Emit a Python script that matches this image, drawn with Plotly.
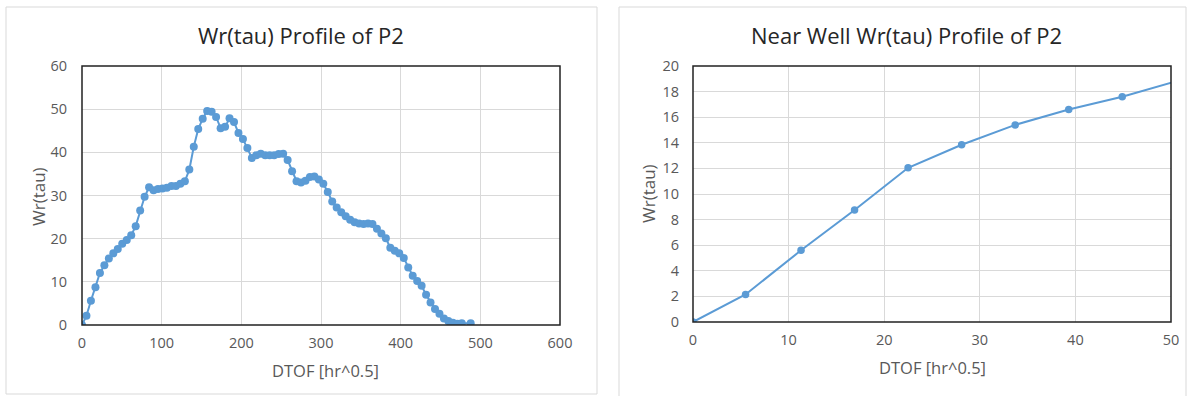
import plotly.graph_objects as go

# Left chart: full profile
dtof_full = [0, 5.6, 11.2, 16.9, 22.5, 28.1, 33.7, 39.3, 44.9, 50.5, 56.2, 61.8, 67.4, 73.0, 78.6,
             84.2, 89.8, 95.4, 101.0, 106.6, 112.3, 117.9, 123.5, 129.1, 134.7, 140.3, 145.9, 151.5,
             157.1, 162.7, 168.3, 174.0, 179.6, 185.2, 190.8, 196.4, 202.0, 207.6, 213.2, 218.8,
             224.4, 230.0, 235.6, 241.2, 246.9, 252.5, 258.1, 263.7, 269.3, 274.9, 280.5, 286.1,
             291.7, 297.3, 302.9, 308.5, 314.1, 319.7, 325.4, 331.0, 336.6, 342.2, 347.8, 353.4,
             359.0, 364.6, 370.2, 375.8, 381.4, 387.0, 392.6, 398.2, 403.9, 409.5, 415.1, 420.7,
             426.3, 431.9, 437.5, 443.1, 448.7, 454.3, 459.9, 465.5, 471.1, 476.7, 487.9]
wr_full = [0, 2.15, 5.6, 8.75, 12.05, 13.85, 15.4, 16.6, 17.6, 18.8, 19.7, 20.8, 22.9, 26.5, 29.7,
           31.9, 31.2, 31.5, 31.6, 31.8, 32.2, 32.2, 32.7, 33.3, 36.0, 41.3, 45.4, 47.8,
           49.6, 49.4, 48.2, 45.6, 45.9, 47.9, 47.0, 44.5, 43.1, 41.0, 38.7, 39.3,
           39.7, 39.3, 39.3, 39.3, 39.6, 39.7, 38.2, 35.6, 33.3, 33.0, 33.4, 34.3,
           34.4, 33.7, 32.7, 30.8, 28.6, 27.2, 26.1, 25.2, 24.4, 23.8, 23.5, 23.4,
           23.5, 23.4, 22.3, 21.2, 20.1, 17.9, 17.2, 16.6, 15.5, 13.3, 11.4, 10.2,
           9.1, 7.0, 5.2, 3.7, 2.6, 1.5, 0.9, 0.5, 0.3, 0.4, 0.4]

# Right chart: near well
dtof_near = [0, 5.5, 11.3, 16.9, 22.5, 28.1, 33.7, 39.3, 44.9, 50.5]
wr_near = [0, 2.15, 5.6, 8.75, 12.05, 13.85, 15.4, 16.6, 17.6, 18.8]

left_xticks = [0, 100, 200, 300, 400, 500, 600]
left_yticks = [0, 10, 20, 30, 40, 50, 60]
right_xticks = [0, 10, 20, 30, 40, 50]
right_yticks = [0, 2, 4, 6, 8, 10, 12, 14, 16, 18, 20]

W, H = 1187, 396
FONT = "Open Sans"
BLUE = "#5B9BD5"
GRID = "#d9d9d9"
TICKC = "#595959"

def px(x):
    return x / W

def py(y):
    return 1 - y / H

fig = go.Figure()
fig.add_trace(go.Scatter(x=dtof_full, y=wr_full, mode="lines+markers",
                         line=dict(color=BLUE, width=2), marker=dict(color=BLUE, size=8),
                         xaxis="x", yaxis="y", showlegend=False))
fig.add_trace(go.Scatter(x=dtof_near, y=wr_near, mode="lines+markers",
                         line=dict(color=BLUE, width=2), marker=dict(color=BLUE, size=7.5),
                         xaxis="x2", yaxis="y2", showlegend=False, cliponaxis=True))

axis_common = dict(showgrid=True, gridcolor=GRID, gridwidth=1, zeroline=False, automargin=False,
                   showline=False, ticks="", tickfont=dict(family=FONT, size=14.5, color=TICKC))

fig.update_layout(
    width=W, height=H, margin=dict(l=0, r=0, t=0, b=0, autoexpand=False),
    paper_bgcolor="white", plot_bgcolor="white",
    font=dict(family=FONT),
    xaxis=dict(domain=[px(82), px(560)], range=[0, 600], tickvals=left_xticks,
               anchor="y", ticklabelstandoff=7, **axis_common),
    yaxis=dict(domain=[py(325), py(66)], range=[0, 60], tickvals=left_yticks,
               anchor="x", ticklabelstandoff=14, **axis_common),
    xaxis2=dict(domain=[px(693), px(1171)], range=[0, 50], tickvals=right_xticks,
                anchor="y2", ticklabelstandoff=7, **axis_common),
    yaxis2=dict(domain=[py(322), py(66)], range=[0, 20], tickvals=right_yticks,
                anchor="x2", ticklabelstandoff=13, **axis_common),
)

shapes = []
# chart-area borders
shapes.append(dict(type="rect", xref="paper", yref="paper", x0=px(6), x1=px(597), y0=py(394), y1=py(7),
                   line=dict(color=GRID, width=1), fillcolor="rgba(0,0,0,0)", layer="below"))
shapes.append(dict(type="rect", xref="paper", yref="paper", x0=px(619), x1=px(1186), y0=py(398), y1=py(7),
                   line=dict(color=GRID, width=1), fillcolor="rgba(0,0,0,0)", layer="below"))
# plot-area frames
shapes.append(dict(type="rect", xref="x domain", yref="y domain", x0=0, x1=1, y0=0, y1=1,
                   line=dict(color="#222222", width=1.5), layer="above"))
shapes.append(dict(type="rect", xref="x2 domain", yref="y2 domain", x0=0, x1=1, y0=0, y1=1,
                   line=dict(color="#222222", width=1.5), layer="above"))
fig.update_layout(shapes=shapes)

def text_at(txt, x, y, size, color, angle=0):
    fig.add_annotation(text=txt, xref="paper", yref="paper", x=px(x), y=py(y),
                       xanchor="center", yanchor="middle", showarrow=False, textangle=angle,
                       font=dict(family=FONT, size=size, color=color))

# chart titles
text_at("Wr(tau) Profile of P2", 301, 35, 22, "#262626")
text_at("Near Well Wr(tau) Profile of P2", 906, 35, 22, "#262626")
# axis titles
text_at("DTOF [hr^0.5]", 325, 370, 16.5, TICKC)
text_at("Wr(tau)", 38, 196, 17, TICKC, -90)
text_at("DTOF [hr^0.5]", 932, 367, 16.5, TICKC)
text_at("Wr(tau)", 649, 194, 17, TICKC, -90)

fig.write_html("out.html", config={"displayModeBar": False},
               post_script="document.body.style.margin='0px';")
